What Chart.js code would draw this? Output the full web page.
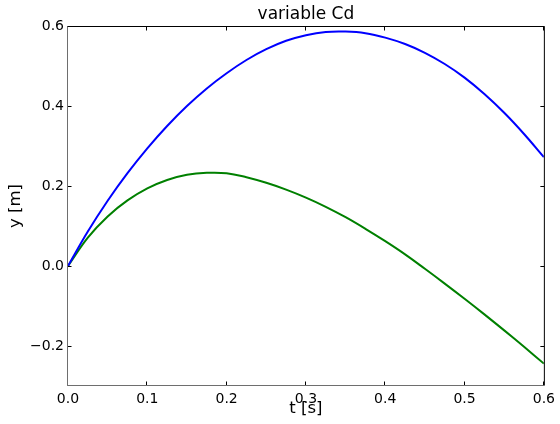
<!DOCTYPE html>
<html>
<head>
<meta charset="utf-8">
<script src="https://cdn.jsdelivr.net/npm/chart.js@4"></script>
<style>
	html, body { margin: 0; padding: 0; background: #fff; }
	#wrap { width: 560px; height: 424px; }
</style>
</head>
<body>
<div id="wrap"><canvas id="cd-chart" width="560" height="424"></canvas></div>
<script>
const times = [0, 0.025, 0.05, 0.075, 0.1, 0.125, 0.15, 0.175, 0.2, 0.225, 0.25, 0.275, 0.3,
	0.325, 0.35, 0.375, 0.4, 0.425, 0.45, 0.475, 0.5, 0.525, 0.55, 0.575, 0.6];
const blueY = [0, 0.086, 0.163, 0.232, 0.294, 0.350, 0.400, 0.444, 0.482, 0.515, 0.542, 0.563, 0.577,
	0.585, 0.586, 0.582, 0.571, 0.555, 0.533, 0.505, 0.471, 0.430, 0.383, 0.330, 0.272];
const greenY = [0, 0.071, 0.124, 0.164, 0.194, 0.215, 0.228, 0.233, 0.232, 0.222, 0.208, 0.191, 0.171,
	0.148, 0.122, 0.093, 0.062, 0.029, -0.007, -0.044, -0.082, -0.121, -0.161, -0.202, -0.244];
const xTicks = [0, 0.1, 0.2, 0.3, 0.4, 0.5, 0.6];
const yTicks = [-0.2, 0, 0.2, 0.4, 0.6];

const FONT = 'DejaVu Sans';

function toPoints(ys) {
	return times.map((t, i) => ({ x: t, y: ys[i] }));
}

function fmt(v) {
	return Number(v).toFixed(1).replace('-', '\u2212');
}

// matplotlib-style frame with inward ticks on all four sides
const frameTicks = {
	id: 'frameTicks',
	afterDatasetsDraw(chart) {
		const { ctx, chartArea: a, scales } = chart;
		const len = 4;
		const l = a.left - 0.5, r = a.right + 0.5, t = a.top + 0.5, b = a.bottom - 0.5;
		ctx.save();
		ctx.lineWidth = 1;

		ctx.strokeStyle = '#000';
		ctx.beginPath();
		ctx.moveTo(l, t);
		ctx.lineTo(r, t);
		ctx.lineTo(r, b);
		xTicks.forEach((v) => {
			const px = Math.round(scales.x.getPixelForValue(v)) - 0.5;
			ctx.moveTo(px, b);
			ctx.lineTo(px, b - len);
			ctx.moveTo(px, t);
			ctx.lineTo(px, t + len);
		});
		yTicks.forEach((v) => {
			const py = Math.round(scales.y.getPixelForValue(v)) + 0.5;
			ctx.moveTo(l, py);
			ctx.lineTo(l + len, py);
			ctx.moveTo(r, py);
			ctx.lineTo(r - len, py);
		});
		ctx.stroke();

		ctx.strokeStyle = '#6e6e6e';
		ctx.beginPath();
		ctx.moveTo(l, t);
		ctx.lineTo(l, b);
		ctx.lineTo(r, b);
		ctx.stroke();
		ctx.restore();
	},
};

document.addEventListener('DOMContentLoaded', () => {
	const ctx = document.getElementById('cd-chart');

	new Chart(ctx, {
		type: 'line',
		data: {
			datasets: [
				{
					data: toPoints(blueY),
					borderColor: '#0000ff',
					borderWidth: 2,
					pointRadius: 0,
					tension: 0.4,
				},
				{
					data: toPoints(greenY),
					borderColor: '#008000',
					borderWidth: 2,
					pointRadius: 0,
					tension: 0.4,
				},
			],
		},
		options: {
			responsive: false,
			animation: false,
			devicePixelRatio: 1,
			layout: {
				padding: { left: 0, right: 16, top: 0, bottom: 0 },
			},
			plugins: {
				legend: { display: false },
				tooltip: { enabled: false },
				title: {
					display: true,
					text: 'variable Cd',
					fullSize: false,
					color: '#000',
					font: { family: FONT, size: 17, weight: 'normal' },
					padding: { top: 4.6, bottom: 1 },
				},
			},
			scales: {
				x: {
					type: 'linear',
					min: 0,
					max: 0.6,
					afterBuildTicks: (scale) => {
						scale.ticks = xTicks.map((v) => ({ value: v }));
					},
					afterFit: (scale) => {
						scale.height = 38;
					},
					grid: { display: false, drawTicks: false },
					border: { display: false },
					ticks: {
						color: '#000',
						padding: 5,
						maxRotation: 0,
						font: { family: FONT, size: 14 },
						callback: (v) => fmt(v),
					},
					title: {
						display: true,
						text: 't [s]',
						color: '#000',
						font: { family: FONT, size: 16.5 },
						padding: { top: 0, bottom: 5.8 },
					},
				},
				y: {
					type: 'linear',
					min: -0.3,
					max: 0.6,
					afterBuildTicks: (scale) => {
						scale.ticks = yTicks.map((v) => ({ value: v }));
					},
					afterFit: (scale) => {
						scale.width = 68;
					},
					grid: { display: false, drawTicks: false },
					border: { display: false },
					ticks: {
						color: '#000',
						padding: 4,
						font: { family: FONT, size: 14 },
						callback: (v) => fmt(v),
					},
					title: {
						display: true,
						text: 'y [m]',
						color: '#000',
						font: { family: FONT, size: 16.5 },
						padding: { top: 5.7, bottom: 0 },
					},
				},
			},
		},
		plugins: [frameTicks],
	});
});
</script>
</body>
</html>
